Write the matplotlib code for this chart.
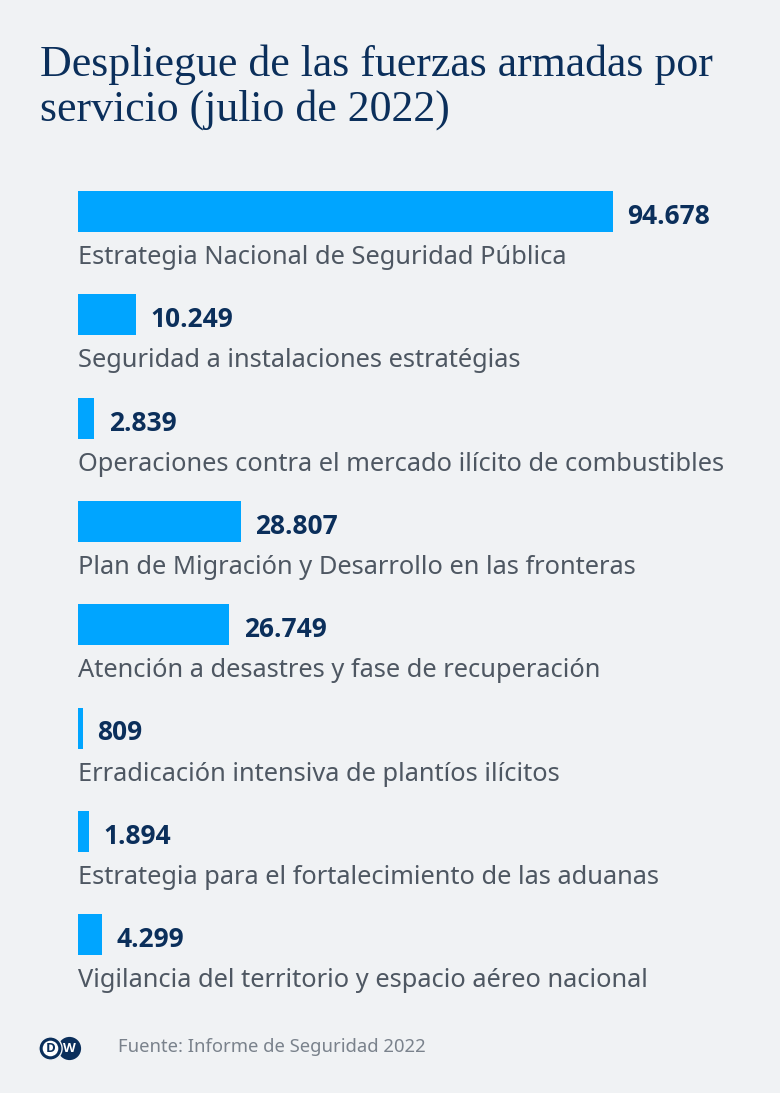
import matplotlib
matplotlib.use('Agg')
import matplotlib.pyplot as plt
from matplotlib.patches import Circle

# datos
categorias = ['Estrategia Nacional de Seguridad Pública',
              'Seguridad a instalaciones estratégias',
              'Operaciones contra el mercado ilícito de combustibles',
              'Plan de Migración y Desarrollo en las fronteras',
              'Atención a desastres y fase de recuperación',
              'Erradicación intensiva de plantíos ilícitos',
              'Estrategia para el fortalecimiento de las aduanas',
              'Vigilancia del territorio y espacio aéreo nacional']
valores = [94678, 10249, 2839, 28807, 26749, 809, 1894, 4299]
etiquetas = ['94.678', '10.249', '2.839', '28.807', '26.749', '809', '1.894', '4.299']

W, H = 780, 1093
fondo = '#f0f2f4'
azul = '#00a5ff'
navy = '#0b2f5b'
gris = '#4e5762'

fig = plt.figure(figsize=(W / 100, H / 100), dpi=100, facecolor=fondo)

# ejes de barras (en pixeles: x 78..613 para el maximo, y 160..1000)
ax = fig.add_axes([78 / W, 1 - 1000 / H, 535 / W, 840 / H])
ax.set_facecolor(fondo)
pos = list(range(len(valores)))
ax.barh(pos, valores, height=0.397, color=azul, linewidth=0)
ax.set_xlim(0, max(valores))
ax.set_ylim(7.633, -0.5)
ax.axis('off')

for i in pos:
    ax.annotate(etiquetas[i], (valores[i], i), xytext=(10.5, -3.5), textcoords='offset points',
                va='center', ha='left', fontsize=19, fontweight='bold', color=navy,
                family='Open Sans', annotation_clip=False)
    ax.text(0, i + 0.445, categorias[i], va='center', ha='left', fontsize=18.3,
            color=gris, family='Noto Sans', clip_on=False)

# titulo
fig.text(40 / W, 1 - 76 / H, 'Despliegue de las fuerzas armadas por', fontsize=31.6,
         color=navy, family='Liberation Serif', va='baseline', ha='left')
fig.text(40 / W, 1 - 121 / H, 'servicio (julio de 2022)', fontsize=31.6,
         color=navy, family='Liberation Serif', va='baseline', ha='left')

# pie
fig.text(118 / W, 1 - 1047 / H, 'Fuente: Informe de Seguridad 2022', fontsize=13.3,
         color='#7a828c', family='Noto Sans', va='center', ha='left')

# logo DW
lax = fig.add_axes([36 / W, 1 - 1064 / H, 48 / W, 31 / H])
lax.set_xlim(0, 48)
lax.set_ylim(0, 31)
lax.set_aspect('equal')
lax.axis('off')
lax.add_patch(Circle((33.5, 15.5), 11.6, facecolor=navy, edgecolor='none'))
lax.add_patch(Circle((14.5, 15.5), 11.6, facecolor=navy, edgecolor=fondo, linewidth=1.0))
lax.add_patch(Circle((14.5, 15.5), 7.8, facecolor='white', edgecolor='none'))
lax.text(14.6, 15.3, 'D', color=navy, fontsize=9.5, fontweight='bold',
         ha='center', va='center', family='Open Sans')
lax.text(33.5, 15.3, 'W', color='white', fontsize=9.5, fontweight='bold',
         ha='center', va='center', family='Open Sans')

fig.savefig('out.png', dpi=100, facecolor=fondo)
